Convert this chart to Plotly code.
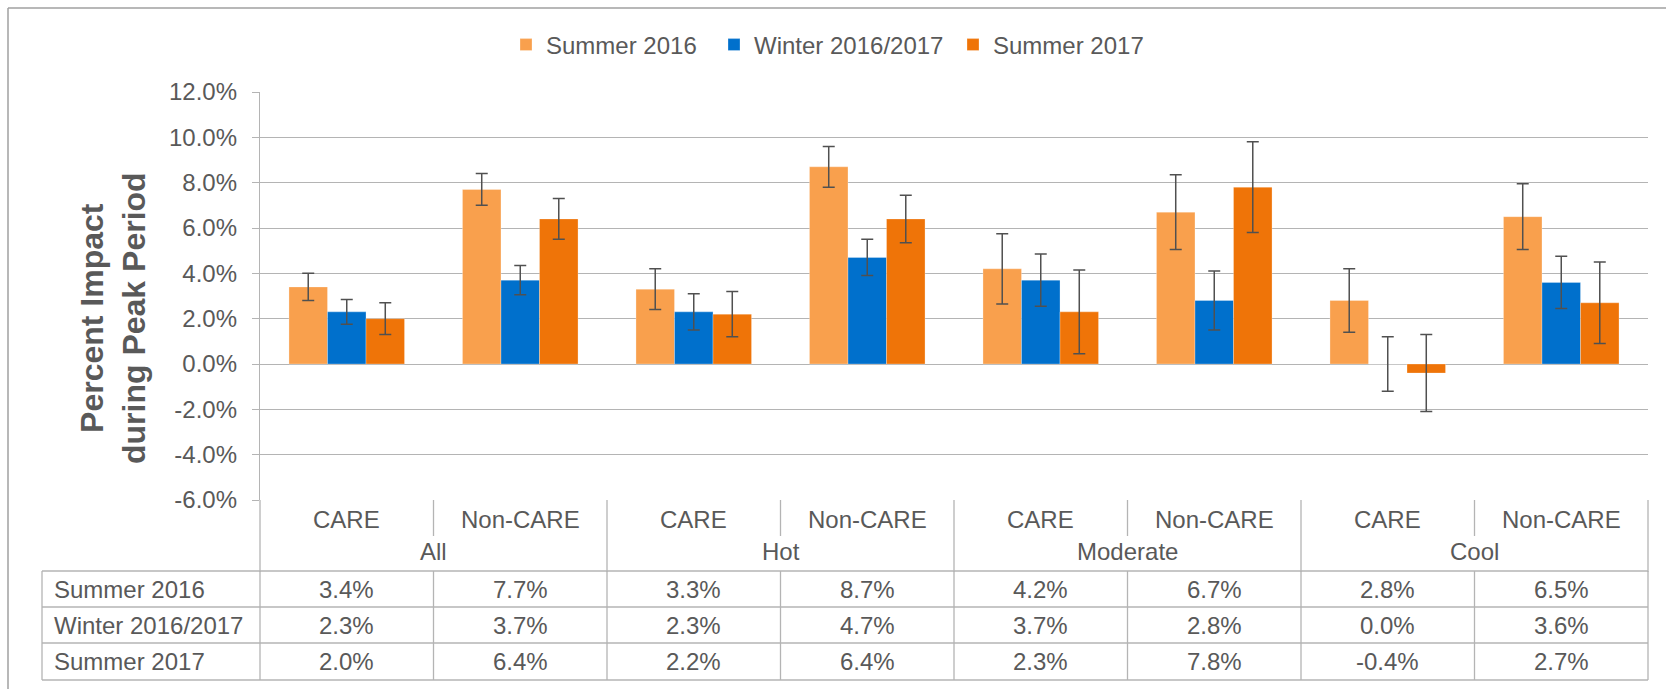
import plotly.graph_objects as go

# ---------------- data ----------------
groups = ["All", "Hot", "Moderate", "Cool"]
subgroups = ["CARE", "Non-CARE"]
series_names = ["Summer 2016", "Winter 2016/2017", "Summer 2017"]

summer_2016 = [3.4, 7.7, 3.3, 8.7, 4.2, 6.7, 2.8, 6.5]
winter_2016_2017 = [2.3, 3.7, 2.3, 4.7, 3.7, 2.8, 0.0, 3.6]
summer_2017 = [2.0, 6.4, 2.2, 6.4, 2.3, 7.8, -0.4, 2.7]

err_summer_2016 = [0.6, 0.7, 0.9, 0.9, 1.55, 1.65, 1.4, 1.45]
err_winter_2016_2017 = [0.55, 0.65, 0.8, 0.8, 1.15, 1.3, 1.2, 1.15]
err_summer_2017 = [0.7, 0.9, 1.0, 1.05, 1.85, 2.0, 1.7, 1.8]

y_ticks = [12, 10, 8, 6, 4, 2, 0, -2, -4, -6]
y_title = "Percent Impact<br>during Peak Period"

# ---------------- style ----------------
W, H = 1673, 689
colors = ["#F9A04D", "#0070CC", "#EF7408"]
text_color = "#595959"
grid_color = "#B4B4B4"
font_family = "Liberation Sans, Arial, sans-serif"
fs = 24

PL, PR, PT, PB = 260, 1648, 92, 500   # plot area in pixels
n_cat = len(groups) * len(subgroups)
x_range = [-0.5, n_cat - 0.5]
legend_text_px = [544, 752, 991]      # where each legend entry's text starts


def px_x(px):
    return (px - PL) / (PR - PL)


def px_y(py):
    return (PB - py) / (PB - PT)


def data_x(v):
    return (v - x_range[0]) / (x_range[1] - x_range[0])


def label(x, y, text, **kw):
    d = dict(xref="paper", yref="paper", x=x, y=y, text=text, showarrow=False,
             xanchor="center", yanchor="middle",
             font=dict(size=fs, color=text_color, family=font_family))
    d.update(kw)
    return d


cat_index = list(range(n_cat))
values = [summer_2016, winter_2016_2017, summer_2017]
errors = [err_summer_2016, err_winter_2016_2017, err_summer_2017]
legend_ids = ["legend", "legend2", "legend3"]

fig = go.Figure()
for name, vals, errs, col, lg in zip(series_names, values, errors, colors, legend_ids):
    fig.add_trace(go.Bar(
        x=cat_index, y=vals, name=name, legend=lg,
        marker=dict(color=col, line=dict(width=0.8, color="rgba(255,255,255,0.35)")),
        error_y=dict(type="data", array=errs, visible=True,
                     color="#505050", thickness=1.5, width=6),
    ))

shapes = []
line_style = dict(color=grid_color, width=1.3)

# outer frame (left and top)
shapes.append(dict(type="line", xref="paper", yref="paper",
                   x0=px_x(8), x1=px_x(8), y0=px_y(8), y1=px_y(700),
                   line=dict(color="#A0A0A0", width=1.5)))
shapes.append(dict(type="line", xref="paper", yref="paper",
                   x0=px_x(8), x1=px_x(1666), y0=px_y(8), y1=px_y(8),
                   line=dict(color="#A0A0A0", width=1.5)))

# category header separators
for b in range(n_cat + 1):
    bx = data_x(b - 0.5)
    y_end = 572 if b % len(subgroups) == 0 else 536
    shapes.append(dict(type="line", xref="paper", yref="paper",
                       x0=bx, x1=bx, y0=px_y(500), y1=px_y(y_end), line=line_style))

# table
table_top, table_rows_y, table_bottom = 571, [607, 643, 680], 680
table_left = 42
for yy in [table_top] + table_rows_y:
    shapes.append(dict(type="line", xref="paper", yref="paper",
                       x0=px_x(table_left), x1=1, y0=px_y(yy), y1=px_y(yy), line=line_style))
for bx in [px_x(table_left)] + [data_x(b - 0.5) for b in range(n_cat + 1)]:
    shapes.append(dict(type="line", xref="paper", yref="paper",
                       x0=bx, x1=bx, y0=px_y(table_top), y1=px_y(table_bottom), line=line_style))

annotations = []
# subgroup labels
for c in cat_index:
    annotations.append(label(data_x(c), px_y(519), subgroups[c % len(subgroups)]))
# group labels
for g, gname in enumerate(groups):
    center = g * len(subgroups) + (len(subgroups) - 1) / 2
    annotations.append(label(data_x(center), px_y(551), gname))
# table rows
row_text_y = [589, 625, 661]
for name, vals, ry in zip(series_names, values, row_text_y):
    annotations.append(label(px_x(52), px_y(ry), name, xanchor="left"))
    for c, v in zip(cat_index, vals):
        annotations.append(label(data_x(c), px_y(ry), f"{v:.1f}%"))
# y title
annotations.append(label(px_x(113), px_y(318), f"<b>{y_title}</b>", textangle=-90,
                         font=dict(size=32, color=text_color, family=font_family)))

legend_common = dict(orientation="h", xanchor="left", y=px_y(45), yanchor="middle",
                     font=dict(size=fs, color=text_color, family=font_family),
                     bgcolor="rgba(0,0,0,0)", itemclick=False)

fig.update_layout(
    width=W, height=H,
    margin=dict(l=PL, r=W - PR, t=PT, b=H - PB, pad=0),
    paper_bgcolor="white", plot_bgcolor="white",
    barmode="group", bargap=0.334, bargroupgap=0,
    font=dict(family=font_family, size=fs, color=text_color),
    showlegend=True,
    legend=dict(x=px_x(legend_text_px[0] - 38), **legend_common),
    legend2=dict(x=px_x(legend_text_px[1] - 38), **legend_common),
    legend3=dict(x=px_x(legend_text_px[2] - 38), **legend_common),
    shapes=shapes, annotations=annotations,
)
fig.update_xaxes(range=x_range, showticklabels=False, showgrid=False, zeroline=False,
                 showline=False, ticks="")
fig.update_yaxes(range=[y_ticks[-1], y_ticks[0]], tickvals=y_ticks,
                 ticktext=[f"{t:.1f}%" for t in y_ticks],
                 showgrid=True, gridcolor=grid_color, gridwidth=1.3,
                 zeroline=False, showline=True, linecolor=grid_color, linewidth=1.3,
                 ticks="outside", ticklen=7, tickcolor=grid_color, tickwidth=1.3,
                 ticklabelstandoff=10,
                 tickfont=dict(size=fs, color=text_color, family=font_family))

fig.write_html("out.html", config={"displayModeBar": False},
               post_script="document.body.style.margin='0';document.body.style.overflow='hidden';")
